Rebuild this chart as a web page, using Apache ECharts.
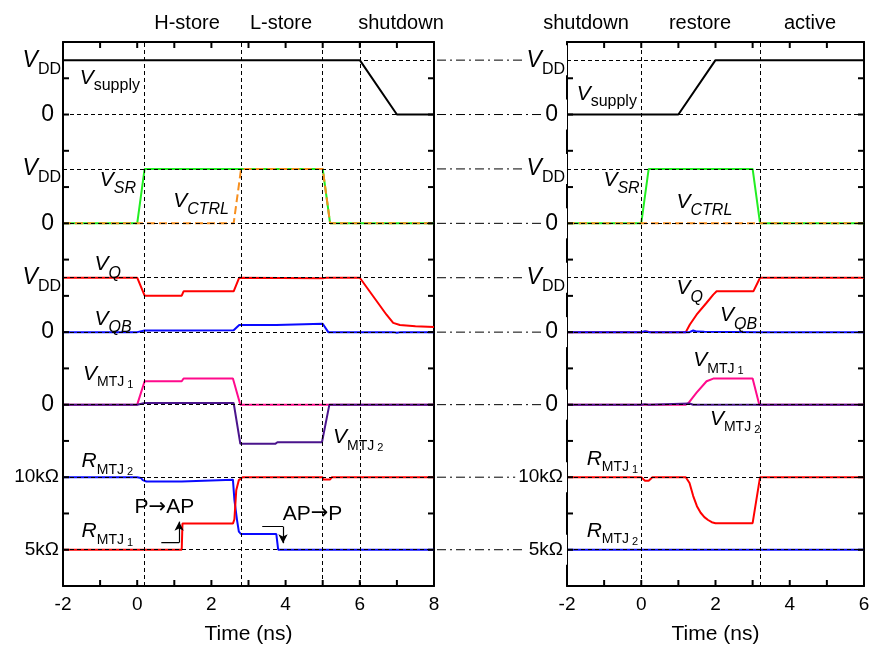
<!DOCTYPE html>
<html>
<head>
<meta charset="utf-8">
<title>store / restore waveforms</title>
<script src="https://cdn.jsdelivr.net/npm/echarts@6/dist/echarts.min.js"></script>
<style>
  html, body { margin: 0; padding: 0; background: #fff; }
  #chart { width: 874px; height: 652px; }
</style>
</head>
<body>
<div id="chart"></div>
<script>
// time in ns; voltages in units of VDD; resistances in kOhm
// ---- left panel (H-store, L-store, shutdown)
var supplyL = [[-2,1],[6,1],[7,0],[8,0]];
var srL     = [[-2,0],[0,0],[0.2,1],[5,1],[5.2,0],[8,0]];
var ctrlL   = [[-2,0],[2.6,0],[2.8,1],[5,1],[5.2,0],[8,0]];
var qL      = [[-2,1],[0,1],[0.2,0.67],[1.2,0.67],[1.25,0.75],[2.6,0.75],[2.75,1],[5,0.99],[5.1,1],[6,1],
               [6.36,0.66],[6.72,0.32],[6.9,0.17],[7.08,0.13],[7.5,0.11],[8,0.095]];
var qbL     = [[-2,0],[0,0],[0.2,0.03],[1.2,0.03],[1.25,0.035],[2.6,0.035],[2.75,0.13],[3.75,0.13],[3.8,0.155],
               [5,0.155],[5.15,0],[6.9,0],[7,-0.01],[7.1,0],[8,0]];
var mtj1L   = [[-2,0],[0,0],[0.2,0.43],[1.2,0.43],[1.25,0.48],[2.58,0.48],[2.78,0],[5,0],[5.05,0.01],[5.15,0],[8,0]];
var mtj2L   = [[-2,0],[0,0],[0.2,0.03],[2.6,0.03],[2.78,-0.72],[3.72,-0.72],[3.78,-0.69],[4.98,-0.69],[5.18,0],[8,0]];
var r2L     = [[-2,10],[0,10],[0.1,9.95],[0.15,9.8],[0.25,9.7],[1.2,9.7],[1.25,9.83],[2.58,9.83],[2.62,8.44],
               [2.69,7.06],[2.74,6.25],[2.8,6.08],[3.75,6.08],[3.8,5],[8,5]];
var r1L     = [[-2,5],[1.2,5],[1.22,6.8],[2.58,6.8],[2.62,7.1],[2.67,9.1],[2.74,9.8],[2.84,10],[5,10],[5.02,9.85],
               [5.2,9.85],[5.25,10],[8,10]];
// ---- right panel (shutdown, restore, active)
var supplyR = [[-2,0],[1,0],[2,1],[6,1]];
var srR     = [[-2,0],[0,0],[0.2,1],[3,1],[3.2,0],[6,0]];
var ctrlR   = [[-2,0],[6,0]];
var qR      = [[-2,0],[0,0],[0.05,0.02],[0.15,0.01],[0.25,0],[1.2,0],[1.31,0.14],[1.49,0.32],[1.76,0.54],[1.94,0.69],
               [2.03,0.75],[3.02,0.75],[3.2,1],[6,1]];
var qbR     = [[-2,0],[0,0],[0.1,0.015],[0.2,0],[1.3,0],[1.4,0.03],[1.5,0.01],[1.7,0.005],[3.2,0],[6,0]];
var mtj1R   = [[-2,0],[0,0],[0.05,0.03],[0.2,0],[1.2,0],[1.27,0.03],[1.49,0.22],[1.76,0.43],[1.94,0.48],[3,0.48],[3.18,0],[6,0]];
var mtj2R   = [[-2,0],[0,0],[0.1,0.01],[0.2,0],[1.3,0.02],[1.4,0],[6,0]];
var r1R     = [[-2,10],[0,10],[0.05,9.9],[0.1,9.75],[0.2,9.75],[0.3,10],[1.2,10],[1.3,9.6],[1.4,8.7],[1.5,8.0],
               [1.6,7.55],[1.7,7.25],[1.8,7.05],[1.9,6.9],[2,6.83],[3,6.83],[3.2,10],[6,10]];
var r2R     = [[-2,5],[6,5]];
// phase boundaries (ns)
var phaseL = [0.2, 2.8, 5.0, 6.0];
var phaseR = [0, 3.2];
var phaseNamesL = ['H-store', 'L-store', 'shutdown'];
var phaseNamesR = ['shutdown', 'restore', 'active'];
// tick positions
var xTicksL = [-1, 0, 1, 2, 3, 4, 5, 6, 7];
var xTicksR = [-1, 0, 1, 2, 3, 4, 5];
var yTicks  = [2, 4, 6, 8, 10, 12, 14, 16, 18, 20, 22, 24, 26, 28];

// ---- layout: every trace sits on its own row of the shared y scale
var ROW = { supply: 26, sr: 20, q: 14, mtj: 10 };
var VSPAN = 3;            // VDD height in rows
var R5 = 2, RPER = 0.8;   // 5kOhm row, rows per kOhm
var YMAX = 30;
var TICK_PX = 6;
function vrow(pts, base) { return pts.map(function (p) { return [p[0], base + p[1] * VSPAN]; }); }
function rrow(pts) { return pts.map(function (p) { return [p[0], R5 + (p[1] - 5) * RPER]; }); }

var levels = {};
levels[ROW.supply + VSPAN] = '{v|V}{dd|DD}';
levels[ROW.supply] = '{z|0}';
levels[ROW.sr + VSPAN] = '{v|V}{dd|DD}';
levels[ROW.sr] = '{z|0}';
levels[ROW.q + VSPAN] = '{v|V}{dd|DD}';
levels[ROW.q] = '{z|0}';
levels[ROW.mtj] = '{z|0}';
levels[R5 + 5 * RPER] = '{k|10kΩ}';
levels[R5] = '{k|5kΩ}';
var levelVals = Object.keys(levels).map(Number);

var FONT = 'Liberation Sans, Arial, Helvetica, sans-serif';
var C = { black: '#000', green: '#22ee22', orange: '#f78f1e', red: '#ff0000', blue: '#0a0aff', pink: '#ff0a8c', purple: '#4a148c' };

// text annotations (data coords of the left edge / middle of the big letter)
var notesL = [
  [-1.55, 28.0, '{v|V}{s|supply}'],
  [-1.01, 22.4, '{v|V}{si|SR}'],
  [0.97, 21.23, '{v|V}{si|CTRL}'],
  [-1.15, 17.73, '{v|V}{si|Q}'],
  [-1.15, 14.74, '{v|V}{si|QB}'],
  [-1.46, 11.7, '{v|V}{m|MTJ}{n|1}'],
  [5.28, 8.2, '{v|V}{m|MTJ}{n|2}'],
  [-1.5, 6.87, '{v|R}{m|MTJ}{n|2}'],
  [-1.5, 3.0, '{v|R}{m|MTJ}{n|1}'],
  [-0.07, 4.34, '{p|P}{a|→}{p|AP}'],
  [3.92, 3.97, '{p|AP}{a|→}{p|P}']
];
var notesR = [
  [-1.74, 27.15, '{v|V}{s|supply}'],
  [-1.02, 22.39, '{v|V}{si|SR}'],
  [0.95, 21.19, '{v|V}{si|CTRL}'],
  [0.95, 16.4, '{v|V}{si|Q}'],
  [2.12, 14.93, '{v|V}{si|QB}'],
  [1.4, 12.44, '{v|V}{m|MTJ}{n|1}'],
  [1.85, 9.22, '{v|V}{m|MTJ}{n|2}'],
  [-1.47, 7.0, '{v|R}{m|MTJ}{n|1}'],
  [-1.47, 3.05, '{v|R}{m|MTJ}{n|2}']
];
// state-switch arrows
var arrowPL = [[0.65, 2.39], [1.13, 2.39], [1.13, 3.55]];
var arrowAP = [[3.37, 3.28], [3.93, 3.28], [3.93, 2.36]];

var richNote = {
  v:  { fontSize: 21, fontStyle: 'italic', lineHeight: 30, fontFamily: FONT, color: '#000' },
  s:  { fontSize: 16, lineHeight: 30, padding: [15, 0, 0, 0], fontFamily: FONT, color: '#000' },
  si: { fontSize: 16, fontStyle: 'italic', lineHeight: 30, padding: [18, 0, 0, 0], fontFamily: FONT, color: '#000' },
  m:  { fontSize: 14, lineHeight: 30, padding: [17, 0, 0, 0], fontFamily: FONT, color: '#000' },
  n:  { fontSize: 11, lineHeight: 30, padding: [22, 0, 0, 3], fontFamily: FONT, color: '#000' },
  p:  { fontSize: 21, lineHeight: 30, fontFamily: FONT, color: '#000' },
  a:  { fontSize: 21, lineHeight: 30, fontFamily: 'DejaVu Sans', color: '#000' }
};
var richLevel = {
  v:  { fontSize: 23, fontStyle: 'italic', lineHeight: 30, fontFamily: FONT, color: '#000' },
  dd: { fontSize: 16, lineHeight: 30, padding: [18, 0, 0, 0], fontFamily: FONT, color: '#000' },
  z:  { fontSize: 23, lineHeight: 30, padding: [0, 7, 0, 0], fontFamily: FONT, color: '#000' },
  k:  { fontSize: 19, lineHeight: 30, padding: [0, 2, 0, 0], fontFamily: FONT, color: '#000' }
};

function curve(pts, color, xi, yi, dashed) {
  return {
    type: 'line', xAxisIndex: xi, yAxisIndex: yi, data: pts, symbol: 'none', z: 3,
    lineStyle: { color: color, width: 2, type: dashed ? [8, 4] : 'solid' }
  };
}
function guides(xs, xi, yi) {
  var d = xs.map(function (x) { return { xAxis: x }; })
    .concat(levelVals.map(function (y) { return { yAxis: y }; }));
  return {
    type: 'line', xAxisIndex: xi, yAxisIndex: yi, data: [[0, 0]], symbol: 'none', z: 1,
    lineStyle: { opacity: 0 }, silent: true,
    markLine: { silent: true, symbol: 'none', label: { show: false },
      lineStyle: { color: '#000', width: 1, type: [4, 3] }, data: d }
  };
}
function notes(list, xi, yi) {
  return {
    type: 'scatter', xAxisIndex: xi, yAxisIndex: yi, symbolSize: 0, silent: true, z: 4,
    itemStyle: { color: '#000', opacity: 1 },
    data: list.map(function (n) { return { value: [n[0], n[1]], label: { formatter: n[2] } }; }),
    label: { show: true, position: 'right', distance: 0, color: '#000', opacity: 1, textBorderWidth: 0, rich: richNote }
  };
}
// elbow arrow: plain polyline for the first leg, markLine with arrowhead for the last leg
function arrow(pts, xi, yi) {
  var n = pts.length;
  return {
    type: 'line', xAxisIndex: xi, yAxisIndex: yi, data: pts.slice(0, n - 1), symbol: 'none', z: 4, silent: true,
    lineStyle: { color: '#000', width: 1.2 },
    markLine: { silent: true, symbol: ['none', 'arrow'], symbolSize: [7, 9], label: { show: false },
      lineStyle: { color: '#000', width: 1.2, type: 'solid' },
      data: [[{ coord: pts[n - 2] }, { coord: pts[n - 1] }]] }
  };
}

function bottomAxis(g, lo, hi) {
  return {
    type: 'value', gridIndex: g, min: lo, max: hi, interval: 1, position: 'bottom',
    name: 'Time (ns)', nameLocation: 'middle', nameGap: 38,
    nameTextStyle: { fontSize: 21, fontFamily: FONT, color: '#000' },
    axisLine: { show: true, onZero: false, lineStyle: { color: '#000', width: 2 } },
    axisTick: { show: false },
    axisLabel: { show: true, margin: 9, fontSize: 19, fontFamily: FONT, color: '#000', showMinLabel: true, showMaxLabel: true,
      formatter: function (v) { return v % 2 === 0 ? String(v) : ''; } },
    splitLine: { show: false }
  };
}
function topAxis(g, lo, hi) {
  return {
    type: 'value', gridIndex: g, min: lo, max: hi, position: 'top',
    axisLine: { show: true, onZero: false, lineStyle: { color: '#000', width: 2 } },
    axisTick: { show: false }, axisLabel: { show: false }, splitLine: { show: false }
  };
}
function labelAxis(g, withBg) {
  return {
    type: 'value', gridIndex: g, min: 0, max: YMAX, interval: 1, position: 'left', z: 5,
    axisLine: { show: true, onZero: false, lineStyle: { color: '#000', width: 2 } },
    axisTick: { show: false }, splitLine: { show: false },
    axisLabel: {
      show: true, margin: withBg ? 0 : 2, rich: richLevel, showMinLabel: true, showMaxLabel: true,
      backgroundColor: withBg ? '#fff' : 'transparent', padding: withBg ? [0, 2, 0, 3] : 0,
      formatter: function (v) { return levels[v] || ''; }
    }
  };
}
function rightAxis(g) {
  return {
    type: 'value', gridIndex: g, min: 0, max: YMAX, position: 'right',
    axisLine: { show: true, onZero: false, lineStyle: { color: '#000', width: 2 } },
    axisTick: { show: false }, axisLabel: { show: false }, splitLine: { show: false }
  };
}

var series = [
  guides(phaseL, 0, 0),
  curve(vrow(supplyL, ROW.supply), C.black, 0, 0),
  curve(vrow(srL, ROW.sr), C.green, 0, 0),
  curve(vrow(ctrlL, ROW.sr), C.orange, 0, 0, true),
  curve(vrow(qbL, ROW.q), C.blue, 0, 0),
  curve(vrow(qL, ROW.q), C.red, 0, 0),
  curve(vrow(mtj1L, ROW.mtj), C.pink, 0, 0),
  curve(vrow(mtj2L, ROW.mtj), C.purple, 0, 0),
  curve(rrow(r2L), C.blue, 0, 0),
  curve(rrow(r1L), C.red, 0, 0),
  notes(notesL, 0, 0),
  arrow(arrowPL, 0, 0),
  arrow(arrowAP, 0, 0),

  guides(phaseR, 2, 2),
  curve(vrow(supplyR, ROW.supply), C.black, 2, 2),
  curve(vrow(srR, ROW.sr), C.green, 2, 2),
  curve(vrow(ctrlR, ROW.sr), C.orange, 2, 2, true),
  curve(vrow(qR, ROW.q), C.red, 2, 2),
  curve(vrow(qbR, ROW.q), C.blue, 2, 2),
  curve(vrow(mtj1R, ROW.mtj), C.pink, 2, 2),
  curve(vrow(mtj2R, ROW.mtj), C.purple, 2, 2),
  curve(rrow(r1R), C.red, 2, 2),
  curve(rrow(r2R), C.blue, 2, 2),
  notes(notesR, 2, 2)
];
// dash-dot links from the left panel to the right panel's level labels
levelVals.forEach(function (y) {
  series.push({
    type: 'line', xAxisIndex: 4, yAxisIndex: 4, data: [[0, y], [1, y]], symbol: 'none', z: 2, silent: true,
    lineStyle: { color: '#000', width: 1, type: [9, 4, 2, 4] }
  });
});

var titles = [];
var titleX = [[187, 281, 401], [586, 700, 810]];
[phaseNamesL, phaseNamesR].forEach(function (names, k) {
  names.forEach(function (t, i) {
    titles.push({ type: 'text', x: titleX[k][i], y: 23,
      style: { text: t, align: 'center', verticalAlign: 'middle', fontSize: 20, fontFamily: FONT, fill: '#000' } });
  });
});

var chart = echarts.init(document.getElementById('chart'));
chart.setOption({
  animation: false,
  backgroundColor: '#fff',
  textStyle: { fontFamily: FONT },
  grid: [
    { left: 63, top: 42, width: 371, height: 544, containLabel: false, outerBoundsMode: 'none' },
    { left: 567, top: 42, width: 297, height: 544, containLabel: false, outerBoundsMode: 'none' },
    { left: 437, top: 42, width: 130, height: 544, containLabel: false, outerBoundsMode: 'none' }
  ],
  xAxis: [
    bottomAxis(0, -2, 8), topAxis(0, -2, 8),
    bottomAxis(1, -2, 6), topAxis(1, -2, 6),
    { type: 'value', gridIndex: 2, min: 0, max: 1, show: false }
  ],
  yAxis: [
    labelAxis(0, false), rightAxis(0),
    labelAxis(1, true), rightAxis(1),
    { type: 'value', gridIndex: 2, min: 0, max: YMAX, show: false }
  ],
  graphic: titles,
  series: series
});

// inward frame ticks: positions come from the panels' own scales via convertToPixel
function frameTicks(gridIndex, xt, xlo, xhi) {
  var out = [];
  function seg(x1, y1, x2, y2) {
    out.push({ type: 'line', z: 100, silent: true,
      shape: { x1: x1, y1: y1, x2: x2, y2: y2 }, style: { stroke: '#000', lineWidth: 2 } });
  }
  xt.forEach(function (v) {
    var b = chart.convertToPixel({ gridIndex: gridIndex }, [v, 0]);
    var t = chart.convertToPixel({ gridIndex: gridIndex }, [v, YMAX]);
    seg(b[0], b[1], b[0], b[1] - TICK_PX);
    seg(t[0], t[1], t[0], t[1] + TICK_PX);
  });
  yTicks.forEach(function (v) {
    var l = chart.convertToPixel({ gridIndex: gridIndex }, [xlo, v]);
    var r = chart.convertToPixel({ gridIndex: gridIndex }, [xhi, v]);
    seg(l[0], l[1], l[0] + TICK_PX, l[1]);
    seg(r[0], r[1], r[0] - TICK_PX, r[1]);
  });
  return out;
}
chart.setOption({
  graphic: titles.concat(frameTicks(0, xTicksL, -2, 8), frameTicks(1, xTicksR, -2, 6))
});
</script>
</body>
</html>
